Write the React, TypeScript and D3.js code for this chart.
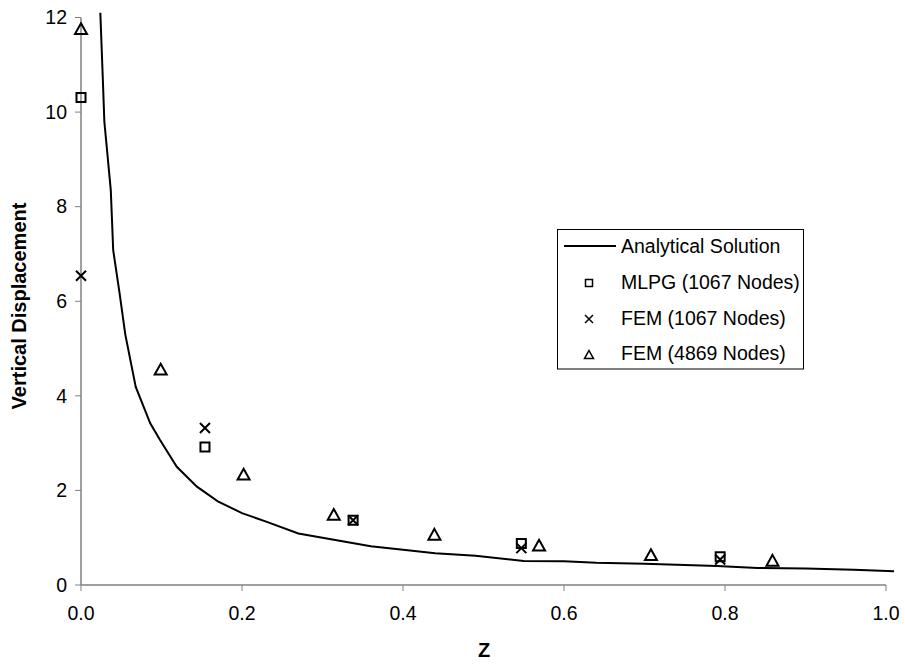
import React, { useEffect, useRef } from "react";
import * as d3 from "d3";

const analyticZ = [0.024, 0.027, 0.029, 0.037, 0.040, 0.048, 0.055, 0.068, 0.086, 0.098, 0.119, 0.144, 0.17, 0.20, 0.23, 0.27, 0.36, 0.44, 0.49, 0.55, 0.60, 0.64, 0.70, 0.79, 0.84, 0.90, 0.96, 1.01];
const analyticV = [12.1, 10.75, 9.8, 8.35, 7.08, 6.16, 5.3, 4.19, 3.42, 3.07, 2.5, 2.08, 1.77, 1.52, 1.34, 1.09, 0.82, 0.67, 0.62, 0.51, 0.5, 0.47, 0.45, 0.4, 0.36, 0.35, 0.32, 0.29];

const mlpgZ = [0, 0.154, 0.338, 0.547, 0.794];
const mlpgV = [10.31, 2.92, 1.37, 0.88, 0.6];

const fem1067Z = [0, 0.154, 0.338, 0.547, 0.794];
const fem1067V = [6.54, 3.32, 1.37, 0.78, 0.54];

const fem4869Z = [0, 0.099, 0.202, 0.314, 0.439, 0.569, 0.708, 0.859];
const fem4869V = [11.75, 4.55, 2.33, 1.48, 1.06, 0.83, 0.63, 0.51];

const xTicks = [0, 0.2, 0.4, 0.6, 0.8, 1.0];
const yTicks = [0, 2, 4, 6, 8, 10, 12];

const legendLabels = ["Analytical Solution", "MLPG (1067 Nodes)", "FEM (1067 Nodes)", "FEM (4869 Nodes)"];

const FONT = "'Liberation Sans', Arial, sans-serif";

function squarePath(cx: number, cy: number, s: number) {
  const h = s / 2;
  return `M${cx - h},${cy - h}h${s}v${s}h${-s}Z`;
}
function crossPath(cx: number, cy: number, s: number) {
  const h = s / 2;
  return `M${cx - h},${cy - h}L${cx + h},${cy + h}M${cx - h},${cy + h}L${cx + h},${cy - h}`;
}
function triPath(cx: number, cy: number, s: number) {
  const h = s / 2;
  return `M${cx},${cy - h}L${cx + h},${cy + h * 0.8}L${cx - h},${cy + h * 0.8}Z`;
}

export default function App() {
  const ref = useRef<SVGSVGElement>(null);

  useEffect(() => {
    const svg = d3.select(ref.current);
    svg.selectAll("*").remove();

    const x = d3.scaleLinear().domain([0, 1]).range([81, 886]);
    const y = d3.scaleLinear().domain([0, 12]).range([585, 17.5]);

    const axisColor = "#808080";

    // x axis
    const gx = svg.append("g").attr("transform", `translate(0,${y(0)})`);
    gx.append("line").attr("x1", x(0)).attr("x2", x(1)).attr("stroke", axisColor).attr("stroke-width", 1.5);
    xTicks.forEach((t) => {
      gx.append("line").attr("x1", x(t)).attr("x2", x(t)).attr("y1", 0).attr("y2", 6).attr("stroke", axisColor).attr("stroke-width", 1);
      gx.append("text").attr("x", x(t)).attr("y", 35).attr("text-anchor", "middle")
        .attr("font-family", FONT).attr("font-size", 19.5).attr("fill", "#000").text(d3.format(".1f")(t));
    });

    // y axis
    const gy = svg.append("g").attr("transform", `translate(${x(0)},0)`);
    gy.append("line").attr("y1", y(0)).attr("y2", y(12)).attr("stroke", axisColor).attr("stroke-width", 1.5);
    yTicks.forEach((t) => {
      gy.append("line").attr("x1", -6).attr("x2", 0).attr("y1", y(t)).attr("y2", y(t)).attr("stroke", axisColor).attr("stroke-width", 1);
      gy.append("text").attr("x", -14).attr("y", y(t)).attr("dy", "0.35em").attr("text-anchor", "end")
        .attr("font-family", FONT).attr("font-size", 19.5).attr("fill", "#000").text(String(t));
    });

    // titles
    svg.append("text").attr("transform", `translate(26,306) rotate(-90)`).attr("text-anchor", "middle")
      .attr("font-family", FONT).attr("font-weight", "bold").attr("font-size", 20).attr("fill", "#000")
      .text("Vertical Displacement");
    svg.append("text").attr("x", 484).attr("y", 657).attr("text-anchor", "middle")
      .attr("font-family", FONT).attr("font-weight", "bold").attr("font-size", 20).attr("fill", "#000")
      .text("Z");

    // analytical line
    const line = d3.line<number>().x((_, i) => x(analyticZ[i])).y((d) => y(d));
    svg.append("path").attr("d", line(analyticV) || "").attr("fill", "none").attr("stroke", "#000").attr("stroke-width", 2);

    const mk = { fill: "none", stroke: "#000", sw: 2 };
    mlpgZ.forEach((z, i) => {
      svg.append("path").attr("d", squarePath(x(z), y(mlpgV[i]), 9)).attr("fill", mk.fill).attr("stroke", mk.stroke).attr("stroke-width", mk.sw);
    });
    fem1067Z.forEach((z, i) => {
      svg.append("path").attr("d", crossPath(x(z), y(fem1067V[i]), 10)).attr("fill", "none").attr("stroke", mk.stroke).attr("stroke-width", mk.sw);
    });
    fem4869Z.forEach((z, i) => {
      svg.append("path").attr("d", triPath(x(z), y(fem4869V[i]), 12)).attr("fill", mk.fill).attr("stroke", mk.stroke).attr("stroke-width", mk.sw);
    });

    // legend
    const lg = svg.append("g");
    lg.append("rect").attr("x", 557.5).attr("y", 229.5).attr("width", 246).attr("height", 139.5)
      .attr("fill", "#fff").attr("stroke", "#000").attr("stroke-width", 1);
    const rowY = [246, 282, 318, 353];
    const mx = 589;
    lg.append("line").attr("x1", 564).attr("x2", 616).attr("y1", rowY[0]).attr("y2", rowY[0]).attr("stroke", "#000").attr("stroke-width", 2);
    lg.append("path").attr("d", squarePath(mx, rowY[1] + 1, 7)).attr("fill", "none").attr("stroke", "#000").attr("stroke-width", 1.5);
    lg.append("path").attr("d", crossPath(mx, rowY[2] + 1, 8)).attr("fill", "none").attr("stroke", "#000").attr("stroke-width", 1.5);
    lg.append("path").attr("d", triPath(mx, rowY[3] + 2, 9)).attr("fill", "none").attr("stroke", "#000").attr("stroke-width", 1.5);
    legendLabels.forEach((l, i) => {
      lg.append("text").attr("x", 621).attr("y", rowY[i]).attr("dy", "0.35em")
        .attr("font-family", FONT).attr("font-size", 19.5).attr("fill", "#000").text(l);
    });
  }, []);

  return (
    <svg ref={ref} width={905} height={664} style={{ position: "absolute", left: 0, top: 0, background: "#fff" }} />
  );
}
